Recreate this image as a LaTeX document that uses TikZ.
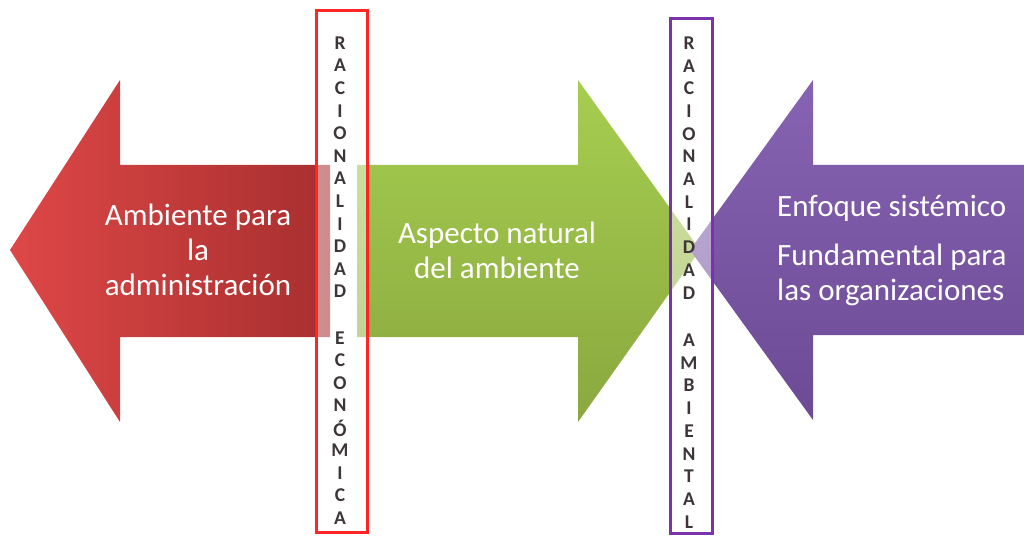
\documentclass[tikz,border=0pt]{standalone}
\usepackage{fontspec}
\setmainfont{Carlito}
\definecolor{redL}{HTML}{DE4747}
\definecolor{redR}{HTML}{A82F2F}
\definecolor{greenT}{HTML}{A6CE50}
\definecolor{greenB}{HTML}{8AA83F}
\definecolor{purpT}{HTML}{8763B3}
\definecolor{purpB}{HTML}{6C4A94}
\definecolor{boxRed}{HTML}{FF2525}
\definecolor{boxPurp}{HTML}{7A33AE}
\definecolor{letterC}{HTML}{3E3636}
\tikzset{
  arrowtext/.style={text=white, inner sep=0pt, align=center, font=\fontsize{31}{35}\selectfont},
  colletter/.style={text=letterC, inner sep=0pt, font=\fontsize{19.5}{19.5}\selectfont\bfseries},
  colbox/.style={line width=3pt, fill=white, fill opacity=0.45},
}
\begin{document}
\begin{tikzpicture}[x=1pt,y=-1pt]
\useasboundingbox (0,0) rectangle (1024,537);
% arrows
\path[left color=redL, right color=redR]
  (10,250) -- (120,80) -- (120,165) -- (330,165) -- (330,337) -- (120,337) -- (120,422) -- cycle;
\path[top color=greenT, bottom color=greenB]
  (357,165) -- (578,165) -- (578,80) -- (700,250) -- (578,422) -- (578,337) -- (357,337) -- cycle;
\path[top color=purpT, bottom color=purpB]
  (690,250) -- (813,80) -- (813,165) -- (1030,165) -- (1030,335) -- (813,335) -- (813,420) -- cycle;
% boxes
\node[draw=boxRed, colbox, minimum width=51pt, minimum height=521pt, inner sep=0pt] (econbox) at (341.5,271.5) {};
\node[draw=boxPurp, colbox, minimum width=42pt, minimum height=514pt, inner sep=0pt] (ambbox) at (691,276) {};
% letters
\foreach \l [count=\i from 0] in {R,A,C,I,O,N,A,L,I,D,A,D}
  \node[colletter] (ea\i) at (340,43+22.6*\i) {\l};
\foreach \l [count=\i from 0] in {E,C,O,N,Ó,M,I,C,A}
  \node[colletter] (eb\i) at (340,338+22.5*\i) {\l};
\foreach \l [count=\i from 0] in {R,A,C,I,O,N,A,L,I,D,A,D}
  \node[colletter] (aa\i) at (689,43+22.7*\i) {\l};
\foreach \l [count=\i from 0] in {A,M,B,I,E,N,T,A,L}
  \node[colletter] (ab\i) at (689,340+22.75*\i) {\l};
% arrow texts
\node[arrowtext] (t1) at (198,250) {Ambiente para\\la\\administración};
\node[arrowtext] (t2) at (497,250) {Aspecto natural\\del ambiente};
\node[arrowtext, align=left, anchor=west] (t3) at (777,250) {Enfoque sistémico\\[14pt]Fundamental para\\las organizaciones};
\end{tikzpicture}
\end{document}
